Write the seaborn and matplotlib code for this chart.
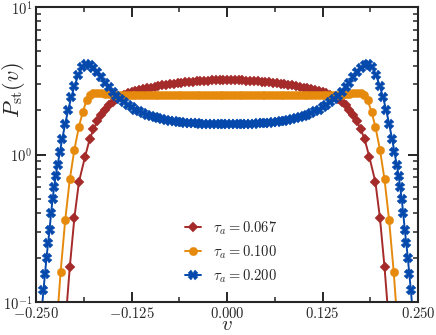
import numpy as np
import pandas as pd
import matplotlib
matplotlib.use("Agg")
import matplotlib.pyplot as plt
import matplotlib.ticker as mticker
import seaborn as sns

# values (symmetric distributions)
v_red = [-0.213, -0.206, -0.200, -0.194, -0.186, -0.180, -0.175, -0.170, -0.165, -0.160, -0.155,
         -0.150, -0.145, -0.140, -0.135, -0.130, -0.125, -0.120, -0.115, -0.110, -0.105, -0.100,
         -0.095, -0.090, -0.085, -0.080, -0.075, -0.070, -0.065, -0.060, -0.055, -0.050, -0.045,
         -0.040, -0.035, -0.030, -0.025, -0.020, -0.015, -0.010, -0.005, 0.000,
         0.005, 0.010, 0.015, 0.020, 0.025, 0.030, 0.035, 0.040, 0.045, 0.050, 0.055, 0.060,
         0.065, 0.070, 0.075, 0.080, 0.085, 0.090, 0.095, 0.100, 0.105, 0.110, 0.115, 0.120,
         0.125, 0.130, 0.135, 0.140, 0.145, 0.150, 0.155, 0.160, 0.165, 0.170, 0.175, 0.180,
         0.186, 0.194, 0.200, 0.206, 0.213]
p_red = [0.060, 0.173, 0.373, 0.654, 0.970, 1.270, 1.480, 1.680, 1.860, 2.020, 2.160,
         2.280, 2.380, 2.460, 2.540, 2.600, 2.645, 2.689, 2.730, 2.770, 2.808, 2.845,
         2.879, 2.912, 2.943, 2.973, 3.000, 3.026, 3.050, 3.072, 3.093, 3.111, 3.128,
         3.143, 3.156, 3.168, 3.178, 3.186, 3.192, 3.196, 3.199, 3.200,
         3.199, 3.196, 3.192, 3.186, 3.178, 3.168, 3.156, 3.143, 3.128, 3.111, 3.093, 3.072,
         3.050, 3.026, 3.000, 2.973, 2.943, 2.912, 2.879, 2.845, 2.808, 2.770, 2.730, 2.689,
         2.645, 2.600, 2.540, 2.460, 2.380, 2.280, 2.160, 2.020, 1.860, 1.680, 1.480, 1.270,
         0.970, 0.654, 0.373, 0.173, 0.060]

v_orange = [-0.224, -0.218, -0.212, -0.206, -0.200, -0.194, -0.189, -0.184, -0.179, -0.175,
            -0.170, -0.165, -0.160, -0.155, -0.150, -0.145, -0.140, -0.135, -0.130, -0.125,
            -0.120, -0.115, -0.110, -0.105, -0.100, -0.095, -0.090, -0.085, -0.080, -0.075,
            -0.070, -0.065, -0.060, -0.055, -0.050, -0.045, -0.040, -0.035, -0.030, -0.025,
            -0.020, -0.015, -0.010, -0.005, 0.000,
            0.005, 0.010, 0.015, 0.020, 0.025, 0.030, 0.035, 0.040, 0.045, 0.050,
            0.055, 0.060, 0.065, 0.070, 0.075, 0.080, 0.085, 0.090, 0.095, 0.100,
            0.105, 0.110, 0.115, 0.120, 0.125, 0.130, 0.135, 0.140, 0.145, 0.150,
            0.155, 0.160, 0.165, 0.170, 0.175, 0.179, 0.184, 0.189, 0.194, 0.200,
            0.206, 0.212, 0.218, 0.224]
p_orange = [0.060, 0.161, 0.360, 0.680, 1.080, 1.550, 1.950, 2.330, 2.550, 2.600,
            2.620, 2.610, 2.590, 2.570, 2.550, 2.530, 2.520, 2.520, 2.520, 2.520,
            2.520, 2.520, 2.520, 2.520, 2.520, 2.520, 2.520, 2.520, 2.520, 2.520,
            2.520, 2.520, 2.520, 2.520, 2.520, 2.520, 2.520, 2.520, 2.520, 2.520,
            2.520, 2.520, 2.520, 2.520, 2.520,
            2.520, 2.520, 2.520, 2.520, 2.520, 2.520, 2.520, 2.520, 2.520, 2.520,
            2.520, 2.520, 2.520, 2.520, 2.520, 2.520, 2.520, 2.520, 2.520, 2.520,
            2.520, 2.520, 2.520, 2.520, 2.520, 2.520, 2.520, 2.520, 2.530, 2.550,
            2.570, 2.590, 2.610, 2.620, 2.600, 2.550, 2.330, 1.950, 1.550, 1.080,
            0.680, 0.360, 0.161, 0.060]

v_blue = [-0.2430, -0.2405, -0.2385, -0.2365, -0.2345, -0.2325, -0.2305, -0.2285, -0.2265, -0.2245,
          -0.222, -0.219, -0.216, -0.212, -0.208, -0.204, -0.200, -0.195, -0.190, -0.185,
          -0.180, -0.175, -0.170, -0.165, -0.160, -0.155, -0.150, -0.145, -0.140, -0.135,
          -0.130, -0.125, -0.120, -0.115, -0.110, -0.105, -0.100, -0.095, -0.090, -0.085,
          -0.080, -0.075, -0.070, -0.065, -0.060, -0.055, -0.050, -0.045, -0.040, -0.035,
          -0.030, -0.025, -0.020, -0.015, -0.010, -0.005, 0.000,
          0.005, 0.010, 0.015, 0.020, 0.025, 0.030, 0.035, 0.040, 0.045, 0.050,
          0.055, 0.060, 0.065, 0.070, 0.075, 0.080, 0.085, 0.090, 0.095, 0.100,
          0.105, 0.110, 0.115, 0.120, 0.125, 0.130, 0.135, 0.140, 0.145, 0.150,
          0.155, 0.160, 0.165, 0.170, 0.175, 0.180, 0.185, 0.190, 0.195, 0.200,
          0.204, 0.208, 0.212, 0.216, 0.219, 0.222, 0.2245, 0.2265, 0.2285, 0.2305,
          0.2325, 0.2345, 0.2365, 0.2385, 0.2405, 0.2430]
p_blue = [0.085, 0.120, 0.155, 0.200, 0.250, 0.310, 0.400, 0.500, 0.600, 0.720,
          0.850, 1.040, 1.270, 1.620, 2.020, 2.450, 2.900, 3.450, 3.900, 4.080,
          4.050, 3.880, 3.630, 3.350, 3.080, 2.850, 2.650, 2.500, 2.370, 2.260,
          2.170, 2.090, 2.020, 1.960, 1.905, 1.860, 1.820, 1.790, 1.763, 1.740,
          1.720, 1.700, 1.686, 1.672, 1.660, 1.650, 1.640, 1.632, 1.625, 1.619,
          1.614, 1.610, 1.606, 1.603, 1.601, 1.600, 1.600,
          1.600, 1.601, 1.603, 1.606, 1.610, 1.614, 1.619, 1.625, 1.632, 1.640,
          1.650, 1.660, 1.672, 1.686, 1.700, 1.720, 1.740, 1.763, 1.790, 1.820,
          1.860, 1.905, 1.960, 2.020, 2.090, 2.170, 2.260, 2.370, 2.500, 2.650,
          2.850, 3.080, 3.350, 3.630, 3.880, 4.050, 4.080, 3.900, 3.450, 2.900,
          2.450, 2.020, 1.620, 1.270, 1.040, 0.850, 0.720, 0.600, 0.500, 0.400,
          0.310, 0.250, 0.200, 0.155, 0.120, 0.085]

tau_labels = [r"$\tau_a = 0.067$", r"$\tau_a = 0.100$", r"$\tau_a = 0.200$"]
x_ticks = [-0.250, -0.125, 0.000, 0.125, 0.250]

sns.set_style("ticks")
plt.rcParams["font.family"] = ["DejaVu Serif"]
plt.rcParams["mathtext.fontset"] = "cm"

fig = plt.figure(figsize=(4.36, 3.35), dpi=100)
ax = fig.add_axes([0.083, 0.098, 0.876, 0.881])

series = [
    (v_red, p_red, "D", "#a52a2a", 5.6),
    (v_orange, p_orange, "o", "#e68a0e", 6.0),
    (v_blue, p_blue, "X", "#0549ad", 6.6),
]
for (v, p, mk, col, ms), lab in zip(series, tau_labels):
    sns.lineplot(x=v, y=p, ax=ax, marker=mk, color=col, markersize=ms,
                 markeredgecolor=col, markeredgewidth=0.3, linewidth=1.4, label=lab)

ax.set_yscale("log")
ax.set_xlim(-0.25, 0.25)
ax.set_ylim(0.1, 10)
ax.set_xticks(x_ticks)
ax.set_xticklabels([r"$%.3f$" % t for t in x_ticks])
ax.xaxis.set_minor_locator(mticker.MultipleLocator(0.0625))
ax.set_yticks([0.1, 1, 10])
ax.set_yticklabels([r"$10^{-1}$", r"$10^{0}$", r"$10^{1}$"])
ax.yaxis.set_minor_locator(mticker.LogLocator(base=10, subs=np.arange(2, 10)))
ax.yaxis.set_minor_formatter(mticker.NullFormatter())

ax.tick_params(which="both", direction="in", top=True, right=True, labelsize=10.5, pad=3)
ax.tick_params(which="major", length=7, width=1.4)
ax.tick_params(which="minor", length=3.5, width=1.1)
for s in ax.spines.values():
    s.set_linewidth(1.5)

ax.set_xlabel(r"$v$", fontsize=15, va="center")
ax.set_ylabel(r"$P_{\rm st}(v)$", fontsize=16, va="center")
ax.xaxis.set_label_coords(0.5, -0.074)
ax.yaxis.set_label_coords(-0.06, 0.72)

ax.legend(loc="center", bbox_to_anchor=(0.51, 0.17), frameon=False, fontsize=10.5,
          handlelength=1.1, handletextpad=0.8, labelspacing=0.45)

fig.savefig("out.png", dpi=100)
